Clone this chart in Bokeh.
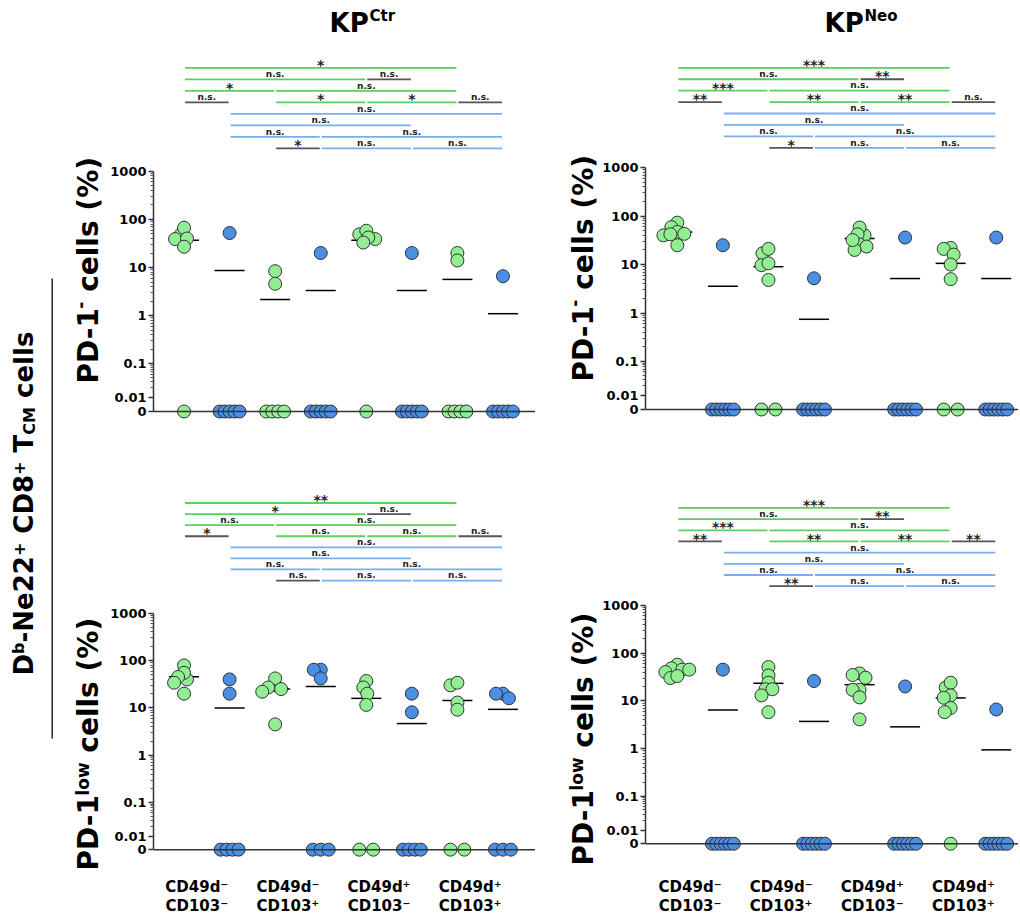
import math
from bokeh.plotting import figure
from bokeh.layouts import row, column
from bokeh.models import Range1d, FixedTicker, Span
from bokeh.core.properties import value
from bokeh.embed import file_html
from bokeh.resources import INLINE

# ---------------- data ----------------
GROUP_LABELS = ["CD49d⁻\nCD103⁻", "CD49d⁻\nCD103⁺", "CD49d⁺\nCD103⁻", "CD49d⁺\nCD103⁺"]
COL_KIND = ["g", "b", "g", "b", "g", "b", "g", "b"]

ctr_pd1neg = [[49, 67, 39, 40, 27, 0], [52, 0, 0, 0, 0, 0], [8.4, 4.6, 0, 0, 0, 0], [20, 0, 0, 0, 0, 0],
              [49, 58, 39, 42, 33, 0], [20, 0, 0, 0, 0, 0], [20, 14, 0, 0, 0, 0], [6.6, 0, 0, 0, 0, 0]]
neo_pd1neg = [[73, 59, 47, 40, 25, 43, 42], [25, 0, 0, 0, 0, 0, 0], [17, 21, 9.7, 10.6, 4.8, 0, 0],
              [5.2, 0, 0, 0, 0, 0, 0], [40, 58, 42, 26, 23.5, 20, 32], [36, 0, 0, 0, 0, 0, 0],
              [22, 21, 16, 10, 5, 0, 0], [36, 0, 0, 0, 0, 0, 0]]
ctr_pd1low = [[79, 40, 55, 45, 34, 20], [40, 20, 0, 0, 0, 0], [30, 42, 27, 22, 25, 4.5], [64, 64, 42, 0, 0, 0],
              [37, 27, 20, 11.6, 0, 0], [20, 8.1, 0, 0, 0, 0], [30, 34, 13, 9.2, 0, 0], [20, 20, 16, 0, 0, 0]]
neo_pd1low = [[57, 48, 45, 45, 40, 30, 33], [45, 0, 0, 0, 0, 0, 0], [51, 34, 24, 17.5, 17.5, 13, 5.8],
              [26, 0, 0, 0, 0, 0, 0], [37.5, 30.5, 34.7, 17, 17, 11.8, 4.1], [20, 0, 0, 0, 0, 0, 0],
              [19, 24, 13, 11.6, 7.1, 5.8, 0], [6.6, 0, 0, 0, 0, 0, 0]]

# comparisons: (from column, to column, colour kind, row)
COMPARISONS = [(1, 7, "g", 0), (1, 5, "g", 1), (5, 6, "d", 1), (1, 3, "g", 2), (3, 7, "g", 2),
               (1, 2, "d", 3), (3, 5, "g", 3), (5, 7, "g", 3), (7, 8, "d", 3), (2, 8, "b", 4),
               (2, 6, "b", 5), (2, 4, "b", 6), (4, 8, "b", 6), (3, 4, "d", 7), (4, 6, "b", 7), (6, 8, "b", 7)]
sig_ctr_neg = ["*", "n.s.", "n.s.", "*", "n.s.", "n.s.", "*", "*", "n.s.", "n.s.", "n.s.", "n.s.", "n.s.", "*", "n.s.", "n.s."]
sig_neo_neg = ["***", "n.s.", "**", "***", "n.s.", "**", "**", "**", "n.s.", "n.s.", "n.s.", "n.s.", "n.s.", "*", "n.s.", "n.s."]
sig_ctr_low = ["**", "*", "n.s.", "n.s.", "n.s.", "*", "n.s.", "n.s.", "n.s.", "n.s.", "n.s.", "n.s.", "n.s.", "n.s.", "n.s.", "n.s."]
sig_neo_low = ["***", "n.s.", "**", "***", "n.s.", "**", "**", "**", "**", "n.s.", "n.s.", "n.s.", "n.s.", "**", "n.s.", "n.s."]

Y_TICKS = [0, 0.01, 0.1, 1, 10, 100, 1000]
Y_TICK_LABELS = ["0", "0.01", "0.1", "1", "10", "100", "1000"]

# ---------------- styling ----------------
FILL = {"g": "#92ee92", "b": "#4a8fe4"}
BAR = {"g": "#5ccf5c", "b": "#78aef0", "d": "#555555"}
FONT = "DejaVu Sans"
PX_COL = 45.8
PAGE_H = 918

# DejaVu Sans Bold advance widths (em)
W = {" ": .348, "(": .457, ")": .457, "%": 1.002, "+": .838, "-": .415, ".": .38,
     "C": .734, "D": .830, "K": .775, "M": .995, "N": .837, "P": .733, "T": .682,
     "b": .716, "c": .593, "d": .716, "e": .678, "l": .343, "o": .687, "r": .493,
     "s": .595, "t": .478, "w": .924, "n": .712}


def tw(s, size):
    return sum(W.get(ch, .696) for ch in s) * size


T0 = -1 - 0.705 - 0.284


def T(v):
    if v <= 0:
        return T0
    l = math.log10(v)
    if l >= -1:
        return l
    return -1 + (l + 1) * 0.705


CANDS = [0]
for i in range(1, 40):
    CANDS += [-i, i]


def swarm(vals, k):
    offs = [0.0] * len(vals)
    nz = sorted([i for i, v in enumerate(vals) if v > 0], key=lambda i: -vals[i])
    placed = []
    for i in nz:
        y = T(vals[i]) * k
        for c in CANDS:
            if all((c - a) ** 2 + (y - b) ** 2 >= 49 for a, b in placed):
                break
        placed.append((c, y))
        offs[i] = c
    zeros = [i for i, v in enumerate(vals) if v <= 0]
    n = len(zeros)
    w = 0 if n <= 1 else min(11, 5 + n)
    for j, i in enumerate(zeros):
        offs[i] = (-w + 2 * w * j / (n - 1)) if n > 1 else 0
    return [o / PX_COL for o in offs]


def panel(vals, sig, title, sup, title_x, frame, c1, y0, k, row0, rowstep, width, height, bl, br, bb, xlabels):
    fl, fr, ft, fb = frame
    xs = lambda x: 1 + (x - c1) / PX_COL
    ys = lambda y: T0 + (y0 - y) / k
    p = figure(width=width, height=height, x_range=Range1d(xs(fl), xs(fr)), y_range=Range1d(ys(fb), ys(ft)),
               output_backend="svg", toolbar_location=None, min_border_left=bl, min_border_right=br,
               min_border_top=0, min_border_bottom=bb, x_axis_location="below" if xlabels else None,
               y_axis_location="left")
    p.outline_line_color = None
    p.grid.visible = False

    ax = p.yaxis[0]
    minors = []
    for dec in [0.01, 0.1, 1, 10, 100]:
        for m in range(2, 10):
            minors.append(T(m * dec))
    ax.ticker = FixedTicker(ticks=[T(v) for v in Y_TICKS], minor_ticks=minors)
    ax.major_label_overrides = {T(v): lab for v, lab in zip(Y_TICKS, Y_TICK_LABELS)}
    ax.bounds = (T0, 3)
    ax.axis_line_color = "#333333"
    ax.axis_line_width = 1.5
    ax.major_tick_line_color = "#333333"
    ax.major_tick_line_width = 1.5
    ax.minor_tick_line_color = "#555555"
    ax.major_tick_out = 5
    ax.major_tick_in = 0
    ax.minor_tick_out = 3
    ax.minor_tick_in = 0
    ax.major_label_standoff = 2
    ax.major_label_text_font = FONT
    ax.major_label_text_font_style = "bold"
    ax.major_label_text_font_size = "13px"
    ax.major_label_text_color = "#000000"

    if xlabels:
        xa = p.xaxis[0]
        xa.ticker = FixedTicker(ticks=[2 * i + 1.5 - 0.22 for i in range(4)])
        xa.major_label_overrides = {2 * i + 1.5 - 0.22: lab for i, lab in enumerate(GROUP_LABELS)}
        xa.axis_line_color = None
        xa.major_tick_line_color = None
        xa.minor_tick_line_color = None
        xa.major_label_standoff = 12
        xa.major_label_text_font = FONT
        xa.major_label_text_font_style = "bold"
        xa.major_label_text_font_size = "15px"
        xa.major_label_text_color = "#000000"
        xa.major_label_text_line_height = 1.1

    p.add_layout(Span(location=T0, dimension="width", line_color="#333333", line_width=1.5))

    # means
    mx, my = [], []
    for ci, vs in enumerate(vals):
        mx.append(ci + 1)
        my.append(T(sum(vs) / len(vs)))
    p.scatter(mx, my, marker="dash", size=30, line_color="#000000", line_width=1.5)

    # points
    for ci, vs in enumerate(vals):
        offs = swarm(vs, k)
        p.scatter([ci + 1 + o for o in offs], [T(v) for v in vs], size=13,
                  fill_color=FILL[COL_KIND[ci]], line_color="#333333", line_width=1)

    # significance bars
    gap = 1.0 / PX_COL
    for (a, b, kind, r), lab in zip(COMPARISONS, sig):
        ly = row0 + r * rowstep
        p.segment(x0=[a + gap], y0=[ys(ly)], x1=[b - gap], y1=[ys(ly)], line_color=BAR[kind], line_width=1.8)
        star = lab.startswith("*")
        p.text(x=[(a + b) / 2], y=[ys(ly - 3.0 if star else ly - 5.2)], text=[lab],
               text_font=value(FONT), text_font_style="bold",
               text_font_size="14px" if star else "9px", text_color="#222222",
               text_align="center", text_baseline="middle")

    # title
    if title:
        p.text(x=[xs(title_x)], y=[ys(22.2)], text=[title], text_font=value(FONT), text_font_style="bold",
               text_font_size="26px", text_color="#000000", text_align="left", text_baseline="middle")
        p.text(x=[xs(title_x + tw(title, 26) + 1)], y=[ys(15.5)], text=[sup], text_font=value(FONT),
               text_font_style="bold", text_font_size="15px", text_color="#000000", text_align="left",
               text_baseline="middle")
    return p


def label_fig(width, page_x0, items, vline=None):
    H = PAGE_H
    p = figure(width=width, height=H, x_range=Range1d(0, width), y_range=Range1d(0, H),
               output_backend="svg", toolbar_location=None, min_border=0,
               x_axis_location=None, y_axis_location=None)
    p.outline_line_color = None
    p.grid.visible = False
    for center_x, start_y, pieces in items:
        y = H - start_y
        for txt, size, shift in pieces:
            if txt.startswith(" "):
                y += tw(" ", size)
                txt = txt[1:]
            p.text(x=[center_x - page_x0 + shift], y=[y], text=[txt], angle=math.pi / 2,
                   text_font=value(FONT), text_font_style="bold", text_font_size=f"{size}px",
                   text_color="#000000", text_align="left", text_baseline="middle")
            y += tw(txt, size)
    if vline:
        x, ya, yb = vline
        p.segment(x0=[x - page_x0], y0=[H - ya], x1=[x - page_x0], y1=[H - yb],
                  line_color="#222222", line_width=1.5)
    return p


big = [("D", 26, 0), ("b", 16, -5), ("-Ne22", 26, 0), ("+", 16, -5), (" CD8", 26, 0), ("+", 16, -5),
       (" T", 26, 0), ("CM", 16, 6), (" cells", 26, 0)]
neg = [("PD-1", 28, 0), ("-", 17, -8.5), (" cells (%)", 28, 0)]
low = [("PD-1", 28, 0), ("low", 17, -6), (" cells (%)", 28, 0)]

L = label_fig(107, 0, [(23.3, 675, big), (88, 383, neg), (88, 870, low)], vline=(51.7, 278, 738))
M = label_fig(64, 535, [(582.5, 381, neg), (582.5, 865, low)])

TL = panel(ctr_pd1neg, sig_ctr_neg, "KP", "Ctr", 328, (151, 535, 0, 448), 181.7, 411, 48.17, 67.3, 11.5,
           428, 448, 44, 0, 0, False)
BL = panel(ctr_pd1low, sig_ctr_low, None, None, 0, (151, 535, 448, 865), 181.7, 855, 48.1, 503.3, 11.24,
           428, 470, 44, 0, 53, True)
TR = panel(neo_pd1neg, sig_neo_neg, "KP", "Neo", 823, (643, 1018, 0, 448), 675, 409, 48.5, 67.3, 11.43,
           419, 448, 44, 0, 0, False)
BR = panel(neo_pd1low, sig_neo_low, None, None, 0, (643, 1018, 448, 865), 675, 849, 48.5, 508.3, 11.34,
           419, 470, 44, 0, 53, True)

layout = row(L, column(TL, BL), M, column(TR, BR))
open("out.html", "w").write(file_html(layout, INLINE))
